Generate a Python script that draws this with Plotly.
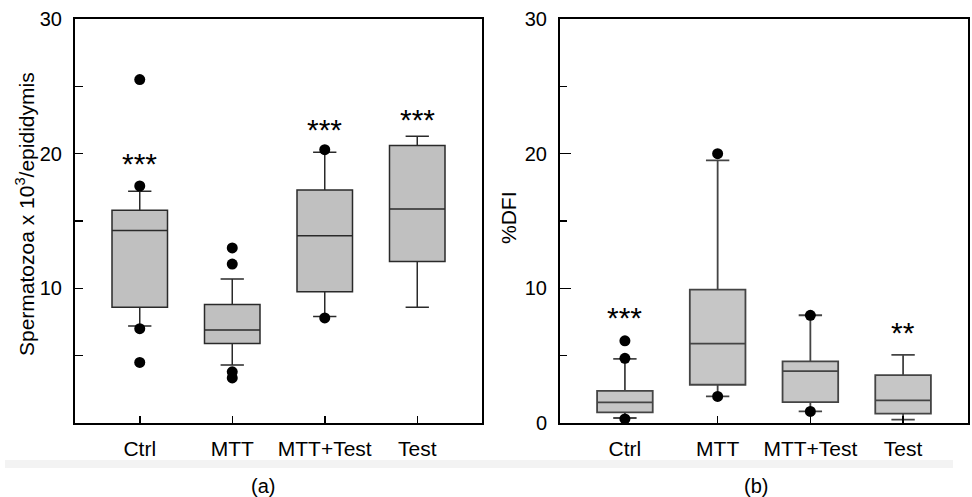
import plotly.graph_objects as go

# ---------------- data ----------------
categories = ["Ctrl", "MTT", "MTT+Test", "Test"]
cat_pos = [0, 1, 2, 3]

# Panel (a): Spermatozoa x 10^3 / epididymis
sp_q1 = [8.6, 5.9, 9.75, 12.0]
sp_median = [14.3, 6.9, 13.9, 15.9]
sp_q3 = [15.8, 8.8, 17.3, 20.6]
sp_lower = [7.2, 4.3, 7.9, 8.6]
sp_upper = [17.2, 10.7, 20.1, 21.3]
sp_out_x = [0, 0, 0, 0, 1, 1, 1, 1, 2, 2]
sp_out_y = [25.5, 17.6, 7.0, 4.5, 13.0, 11.8, 3.8, 3.35, 20.3, 7.8]
sp_star_text = ["***", "", "***", "***"]
sp_star_y = [19.6, None, 22.1, 22.8]

# Panel (b): %DFI
dfi_q1 = [0.79, 2.84, 1.55, 0.69]
dfi_median = [1.53, 5.9, 3.85, 1.68]
dfi_q3 = [2.39, 9.9, 4.57, 3.55]
dfi_lower = [0.37, 1.97, 0.86, 0.25]
dfi_upper = [4.76, 19.5, 8.0, 5.06]
dfi_out_x = [0, 0, 0, 1, 1, 2, 2]
dfi_out_y = [6.1, 4.8, 0.3, 20.0, 1.97, 8.0, 0.86]
dfi_star_text = ["***", "", "", "**"]
dfi_star_y = [8.15, None, None, 7.0]

y_tickvals_a = [10, 20, 30]
y_ticktext_a = ["10", "20", "30"]
y_tickvals_b = [0, 10, 20, 30]
y_ticktext_b = ["0", "10", "20", "30"]
y_minor_vals = [5, 15, 25]

# ---------------- figure ----------------
FONT = "Liberation Sans, Arial, Helvetica, sans-serif"
W, H = 972, 497
MT, MB = 19, 74
PH = H - MT - MB


def px(xp):
    return xp / W


def py(yp):
    return (H - MB - yp) / PH


fig = go.Figure()

fig.add_trace(go.Box(
    x=cat_pos, q1=sp_q1, median=sp_median, q3=sp_q3,
    lowerfence=sp_lower, upperfence=sp_upper,
    width=0.6, whiskerwidth=0.42, boxpoints=False,
    fillcolor="#c0c0c0", line=dict(color="#2a2a2a", width=1.5),
    xaxis="x", yaxis="y", showlegend=False, hoverinfo="skip",
))
fig.add_trace(go.Scatter(
    x=sp_out_x, y=sp_out_y, mode="markers",
    marker=dict(color="black", size=11),
    xaxis="x", yaxis="y", showlegend=False, hoverinfo="skip",
))

fig.add_trace(go.Box(
    x=cat_pos, q1=dfi_q1, median=dfi_median, q3=dfi_q3,
    lowerfence=dfi_lower, upperfence=dfi_upper,
    width=0.6, whiskerwidth=0.42, boxpoints=False,
    fillcolor="#c6c6c6", line=dict(color="#444444", width=1.8),
    xaxis="x2", yaxis="y2", showlegend=False, hoverinfo="skip",
))
fig.add_trace(go.Scatter(
    x=dfi_out_x, y=dfi_out_y, mode="markers",
    marker=dict(color="black", size=11),
    xaxis="x2", yaxis="y2", showlegend=False, hoverinfo="skip",
))

annotations = []
for i, (t, y) in enumerate(zip(sp_star_text, sp_star_y)):
    if t:
        annotations.append(dict(x=cat_pos[i], y=y, xref="x", yref="y", text=t,
                                showarrow=False, yshift=-4,
                                xanchor="center", yanchor="middle",
                                font=dict(family=FONT, size=30, color="black")))
for i, (t, y) in enumerate(zip(dfi_star_text, dfi_star_y)):
    if t:
        annotations.append(dict(x=cat_pos[i], y=y, xref="x2", yref="y2", text=t,
                                showarrow=False, yshift=-4,
                                xanchor="center", yanchor="middle",
                                font=dict(family=FONT, size=30, color="black")))

# axis titles
annotations.append(dict(x=px(25), y=py(214), xref="paper", yref="paper",
                        xanchor="center", yanchor="middle",
                        text="Spermatozoa x 10<sup>3</sup>/epididymis", textangle=-90,
                        showarrow=False, font=dict(family=FONT, size=21, color="black")))
annotations.append(dict(x=px(508), y=py(217), xref="paper", yref="paper",
                        xanchor="center", yanchor="middle",
                        text="%DFI", textangle=-90,
                        showarrow=False, font=dict(family=FONT, size=21, color="black")))
# panel captions
annotations.append(dict(x=px(263), y=py(486), xref="paper", yref="paper",
                        xanchor="center", yanchor="middle",
                        text="(a)", showarrow=False,
                        font=dict(family=FONT, size=20, color="black")))
annotations.append(dict(x=px(756), y=py(486), xref="paper", yref="paper",
                        xanchor="center", yanchor="middle",
                        text="(b)", showarrow=False,
                        font=dict(family=FONT, size=20, color="black")))

xaxis_common = dict(
    range=[-0.7, 3.7], tickmode="array", tickvals=cat_pos, ticktext=categories,
    ticks="inside", ticklen=7, tickwidth=1.5, tickcolor="black",
    showline=True, linecolor="black", linewidth=2, mirror=True,
    showgrid=False, zeroline=False, fixedrange=True, automargin=False,
    tickfont=dict(family=FONT, size=21, color="black"), ticklabelstandoff=6,
)
yaxis_common = dict(
    range=[0, 30], ticks="inside", tickwidth=1.5, tickcolor="black",
    showline=True, linecolor="black", linewidth=2, mirror=True,
    showgrid=False, zeroline=False, fixedrange=True, automargin=False,
    tickfont=dict(family=FONT, size=20, color="black"), ticklabelstandoff=7,
)

fig.update_layout(
    width=W, height=H,
    margin=dict(l=0, r=0, t=MT, b=MB, pad=0, autoexpand=False),
    paper_bgcolor="white", plot_bgcolor="white",
    xaxis=dict(domain=[px(75), px(482)], anchor="y", **xaxis_common),
    xaxis2=dict(domain=[px(560), px(968)], anchor="y2", **xaxis_common),
    yaxis=dict(anchor="x", tickmode="array", tickvals=y_tickvals_a, ticktext=y_ticktext_a,
               ticklen=8,
               minor=dict(ticks="inside", ticklen=8, tickwidth=1.5, tickcolor="black",
                          tickvals=y_minor_vals),
               **yaxis_common),
    yaxis2=dict(anchor="x2", tickmode="array", tickvals=y_tickvals_b, ticktext=y_ticktext_b,
                ticklen=11,
                minor=dict(ticks="inside", ticklen=7, tickwidth=1.5, tickcolor="black",
                           tickvals=y_minor_vals),
                **yaxis_common),
    annotations=annotations,
    shapes=[
        dict(type="rect", xref="paper", yref="paper", x0=px(5), x1=px(486),
             y0=py(468), y1=py(460), fillcolor="#f3f3f3", line=dict(width=0),
             layer="below"),
        dict(type="rect", xref="paper", yref="paper", x0=px(486), x1=px(953),
             y0=py(468), y1=py(460), fillcolor="#f3f3f3", line=dict(width=0),
             layer="below"),
    ],
)

fig.write_html(
    "out.html",
    config={"displayModeBar": False, "staticPlot": True},
    post_script="document.body.style.margin='0';document.body.style.overflow='hidden';",
)
